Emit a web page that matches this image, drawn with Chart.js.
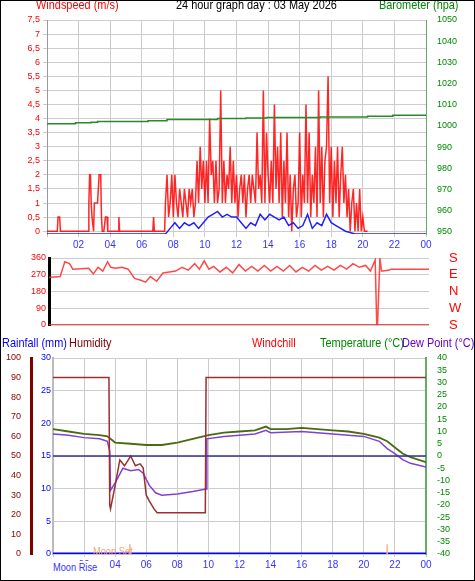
<!DOCTYPE html>
<html><head><meta charset="utf-8">
<script src="https://cdn.jsdelivr.net/npm/chart.js@4"></script>
<style>
body{margin:0;background:#fff;font-family:"Liberation Sans",Arial,sans-serif}
#wrap{position:relative;width:473px;height:579px;border:1px solid #000;overflow:hidden}
canvas{position:absolute;left:0}
.t{position:absolute;font-size:13px;white-space:nowrap;line-height:13px;transform:scaleX(0.84);transform-origin:left top}
</style></head><body><div id="wrap">
<canvas id="c1" style="top:0;width:473px;height:255px" width="473" height="255"></canvas>
<canvas id="c2" style="top:250px;width:473px;height:80px" width="473" height="80"></canvas>
<canvas id="c3" style="top:329px;width:473px;height:243px" width="473" height="243"></canvas>
<div class="t" style="left:35px;top:-3px;color:#f00">Windspeed (m/s)</div>
<div class="t" style="left:175px;top:-3px;color:#000">24 hour graph day : 03 May 2026</div>
<div class="t" style="left:378px;top:-3px;color:#080">Barometer (hpa)</div>
<div class="t" style="left:1px;top:335px;color:#00f">Rainfall (mm)</div>
<div class="t" style="left:68px;top:335px;color:#800000">Humidity</div>
<div class="t" style="left:251px;top:335px;color:#f00">Windchill</div>
<div class="t" style="left:319px;top:335px;color:#080">Temperature (°C)</div>
<div class="t" style="left:401px;top:335px;color:#60c">Dew Point (°C)</div>
<div class="t" style="left:92px;top:544px;color:#f9a070;font-size:11px">Moon Set</div>
<div class="t" style="left:52px;top:560px;color:#33f;font-size:11px;background:#fff">Moon Rise</div>
</div>
<script>
// ---- data ----
const gustTimes=[0,0.65,0.7,0.8,0.85,2.6,2.65,2.7,2.75,2.8,2.85,2.95,3.0,3.05,3.2,3.3,3.4,3.45,3.5,3.6,3.7,3.8,3.85,4.5,4.55,4.6,6.7,6.75,6.8,7.45,
7.5,7.6,7.7,7.8,7.9,8.0,8.1,8.2,8.3,8.4,8.5,8.6,8.7,8.8,8.9,9.0,9.1,9.2,9.3,9.4,9.5,9.6,9.7,9.8,9.9,10.0,10.1,10.2,10.3,10.4,10.5,10.6,10.7,10.8,10.9,11.0,11.1,11.2,11.3,11.4,11.5,11.6,11.7,11.8,11.9,12.0,12.1,12.2,12.3,12.4,12.5,12.6,12.7,12.8,12.9,13.0,13.1,13.2,13.3,13.4,13.5,13.6,13.7,13.8,13.9,14.0,14.1,14.2,14.3,14.4,14.5,14.6,14.7,14.8,14.9,15.0,15.1,15.2,15.3,15.4,15.5,15.6,15.7,15.8,15.9,16.0,16.1,16.2,16.3,16.4,16.5,16.6,16.7,16.8,16.9,17.0,17.1,17.2,17.3,17.4,17.5,17.6,17.7,17.8,17.9,18.0,18.1,18.2,18.3,18.4,18.5,18.6,18.7,18.8,18.9,19.0,19.1,19.2,19.3,19.4,19.5,19.6,19.7,19.8,19.9,20.0,20.1,20.3,24];
const gustVals=[0,0,0.5,0.5,0,0,1,2,2,1,0.5,0,1,1,1,2,2,0.5,0,0,0.5,0.5,0,0,0.5,0,0,0.5,0,0,
1,2,0.5,1,2,0.5,2,1,0.5,1.5,1,0.5,1.5,1,0.5,1.5,1,1.5,0.5,1,2.5,1,3,1.5,2.5,1,2.5,1,4,2,2.5,1,2.5,1,1.5,5,1,2.5,1,2,1.5,3,1,2.5,1,2,0.5,1.5,2,1,2,0.5,1.5,2,1,2,1.5,1,3.5,1.5,2,1,5,1,3.5,2,1,2.5,1,4.5,1.5,3,1,3.5,0.5,2.5,1,3.5,0.5,2,0,1.5,2,0.5,1,3.5,0.5,2,1,4.5,1,3.5,0.5,2,1,3,0.5,5,1,3,0.5,2.5,3,5.5,1,3,0.5,2.5,1,3,0.5,2,3,1,2,0.5,1.5,0,1,1.5,0,1,0,1.5,0,0.5,0,0];
const avgTimes=[0,7.5,7.8,8.1,8.4,8.7,9.0,9.3,9.6,9.9,10.2,10.5,10.8,11.1,11.4,11.7,12.0,12.3,12.6,12.9,13.2,13.5,13.8,14.1,14.4,14.7,15.0,15.3,15.6,15.9,16.2,16.5,16.8,17.1,17.4,17.7,18.0,18.3,18.6,18.9,19.2,19.5,24];
const avgVals=[-0.1,-0.1,0.1,0.3,0.1,0.3,0.2,0.3,0.1,0.3,0.5,0.6,0.7,0.5,0.6,0.5,0.5,0.3,0.1,0.3,0.2,0.6,0.4,0.6,0.5,0.4,0.5,0.2,0.3,0.1,0.2,0.6,0.1,0.3,0.2,0.6,0.3,0.2,0.1,0.0,-0.05,-0.1,-0.1];
const baroTimes=[0,1.8,2.8,3.2,6.4,7.6,10.8,12.6,13.9,17.3,20.3,21.9,24];
const baroVals=[1001,1001.5,1001.8,1002.1,1002.5,1003,1003.5,1003.7,1004,1004.2,1004.6,1005,1005];
const dirTimes=[0,0.7,1.0,1.3,1.5,2.5,2.8,3.1,3.4,3.7,3.9,4.2,4.6,5.0,5.4,5.8,6.1,6.4,6.8,7.2,7.6,8.0,8.4,8.8,9.2,9.5,9.8,10.1,10.4,10.8,11.2,11.6,12.0,12.4,12.8,13.2,13.6,14.0,14.4,14.8,15.2,15.6,16.0,16.4,16.8,17.2,17.6,18.0,18.4,18.8,19.2,19.6,20.0,20.3,20.6,20.7,20.75,20.9,21.0,21.1,21.5,21.6,24];
const dirVals=[255,260,340,330,300,305,275,310,290,340,310,305,310,300,250,240,230,260,235,280,285,290,310,295,330,300,345,300,315,285,310,280,325,290,315,290,320,290,315,290,320,285,310,290,320,295,315,295,320,300,330,310,320,290,350,0,0,360,290,290,295,300,300];
const humTimes=[0,3.6,3.65,3.7,4.0,4.3,4.6,5.0,5.3,5.6,5.8,6.0,6.2,6.5,6.7,9.8,9.85,24];
const humVals=[90,90,25,23,35,48,45,50,45,46,44,30,27,23,21,21,90,90];
const tempTimes=[0,1,2,3,3.5,4,5,6,7,8,9,10,11,12,13,13.7,14,15,16,17,18,19,20,21,21.5,22,22.5,23,24];
const tempVals=[11,10,9,8.5,8,5.5,5,4.5,4.5,5.5,7,8.5,9.5,10,10.5,12,11,11,11.5,11,10.5,10,9,7.5,6,3.5,1,-0.5,-2.5];
const dewTimes=[0,1,2,3,3.5,3.65,3.7,4.0,4.5,5,5.5,5.8,6.2,6.6,7,8,9,9.85,9.9,11,12,13,13.7,14,16,17,18,19,20,21,21.5,22,22.5,23,24];
const dewVals=[9,8.5,7.5,7,6,2,-14,-11,-5,-6,-5.5,-7,-12,-15,-16,-15.5,-14.5,-13.5,7,8,8.5,9,10.5,9.5,10,9.5,9,8.5,8,6,3,1,-1.5,-3,-4.5];
const hourTicks=[0,2,4,6,8,10,12,14,16,18,20,22,24];
const compass={360:'S',270:'E',180:'N',90:'W',0:'S'};
// ---- helpers ----
const pts=(t,v)=>t.map((x,i)=>({x,y:v[i]}));
const grid={color:'#ccc',borderDash:[1,2],drawTicks:false};
const fmtH=v=>String(v%24).padStart(2,'0');
const xAxis=(show,color)=>({type:'linear',min:0,max:24,afterBuildTicks:a=>{a.ticks=hourTicks.map(v=>({value:v}))},
 grid:{...grid,drawTicks:true,tickLength:3},border:{display:false},
 ticks:{display:show,color:color,font:{size:10},callback:v=>v===0?'':fmtH(v),padding:2,maxRotation:0}});
const fixW=w=>(s=>{s.width=w});
const fixW0=w=>(s=>{s.width=w;s.paddingTop=0;s.paddingBottom=0});
Chart.defaults.animation=false;Chart.defaults.font.family='"Liberation Sans",Arial';
const base={responsive:false,maintainAspectRatio:false,devicePixelRatio:1,plugins:{legend:{display:false},tooltip:{enabled:false}},elements:{point:{radius:0},line:{tension:0}}};
// ---- chart 1 ----
new Chart(c1,{type:'line',data:{datasets:[
 {data:pts(baroTimes,baroVals),yAxisID:'yb',borderColor:'#2a8a2a',borderWidth:1.5,stepped:true},
 {data:pts(avgTimes,avgVals),yAxisID:'y',borderColor:'#2020ff',borderWidth:1.5},
 {data:pts(gustTimes,gustVals),yAxisID:'y',borderColor:'rgba(255,0,0,0.85)',borderWidth:1.5}
]},options:{...base,layout:{padding:{top:19,bottom:3}},scales:{
 x:xAxis(true,'#33f'),
 y:{min:-0.1,max:7.5,afterFit:fixW(46),afterBuildTicks:a=>{a.ticks=[0,0.5,1,1.5,2,2.5,3,3.5,4,4.5,5,5.5,6,6.5,7,7.5].map(v=>({value:v}))},
  ticks:{color:'#f00',font:{size:9},autoSkip:false,callback:v=>String(v).replace('.',',')},grid:{...grid,drawTicks:true,tickLength:4},border:{color:'#999'}},
 yb:{position:'right',min:949,max:1050,afterFit:fixW(48),afterBuildTicks:a=>{a.ticks=[950,960,970,980,990,1000,1010,1020,1030,1040,1050].map(v=>({value:v}))},
  ticks:{color:'#080',font:{size:9},autoSkip:false,callback:v=>String(v)},grid:{display:false},border:{color:'#6a6'}}
}}});
// ---- chart 2 ----
new Chart(c2,{type:'line',data:{datasets:[
 {data:pts(dirTimes,dirVals),borderColor:'rgba(255,40,40,0.85)',borderWidth:1.5},
 {data:pts([0,24],[0,0]),borderColor:'rgba(255,40,40,0.85)',borderWidth:2}
]},options:{...base,layout:{padding:{top:7,bottom:6}},scales:{
 x:{type:'linear',min:0,max:24,display:false},
 y:{min:0,max:360,afterFit:fixW0(48),afterBuildTicks:a=>{a.ticks=[0,90,180,270,360].map(v=>({value:v}))},
  ticks:{color:'#f00',font:{size:9},autoSkip:false},grid:{...grid},border:{color:'#000',width:3}},
 y2:{position:'right',min:0,max:360,afterFit:fixW0(45),afterBuildTicks:a=>{a.ticks=[0,90,180,270,360].map(v=>({value:v}))},
  ticks:{color:'#f00',font:{size:13},autoSkip:false,padding:12,callback:v=>compass[v]},grid:{display:false},border:{display:false}}
}}});
// ---- chart 3 ----
new Chart(c3,{type:'line',data:{datasets:[
 {data:pts([0,24],[50,50]),yAxisID:'yh',borderColor:'#33338a',borderWidth:1.5},
 {data:pts([4.95,4.95],[0,5]),yAxisID:'yh',borderColor:'#f9b08a',borderWidth:1.5},
 {data:pts([21.5,21.5],[0,5]),yAxisID:'yh',borderColor:'#f9b08a',borderWidth:1.5},
 {data:pts(humTimes,humVals),yAxisID:'yh',borderColor:'#9a3030',borderWidth:1.5},
 {data:pts(dewTimes,dewVals),yAxisID:'yt',borderColor:'#8040d0',borderWidth:1.5},
 {data:pts(tempTimes,tempVals),yAxisID:'yt',borderColor:'#4a6a10',borderWidth:1.8},
 {data:pts([0,24],[0,0]),yAxisID:'yr',borderColor:'#0000ff',borderWidth:3}
]},options:{...base,layout:{padding:{top:28,bottom:0}},scales:{
 x:{...xAxis(true,'#33f')},
 yr:{min:0,max:30,afterFit:fixW(22),afterBuildTicks:a=>{a.ticks=[0,5,10,15,20,25,30].map(v=>({value:v}))},
  ticks:{color:'#00f',font:{size:9},padding:2},grid:{...grid},border:{color:'#bbb',width:2}},
 yh:{min:0,max:100,afterFit:fixW(30),afterBuildTicks:a=>{a.ticks=[0,10,20,30,40,50,60,70,80,90,100].map(v=>({value:v}))},
  ticks:{color:'#800000',font:{size:9},padding:2},grid:{display:false},border:{color:'#800000',width:3}},
 yt:{position:'right',min:-40,max:40,afterFit:fixW(48),afterBuildTicks:a=>{a.ticks=[-40,-35,-30,-25,-20,-15,-10,-5,0,5,10,15,20,25,30,35,40].map(v=>({value:v}))},
  ticks:{color:'#080',font:{size:9},autoSkip:false},grid:{display:false},border:{color:'#6a6',width:2}}
}}});
</script></body></html>
